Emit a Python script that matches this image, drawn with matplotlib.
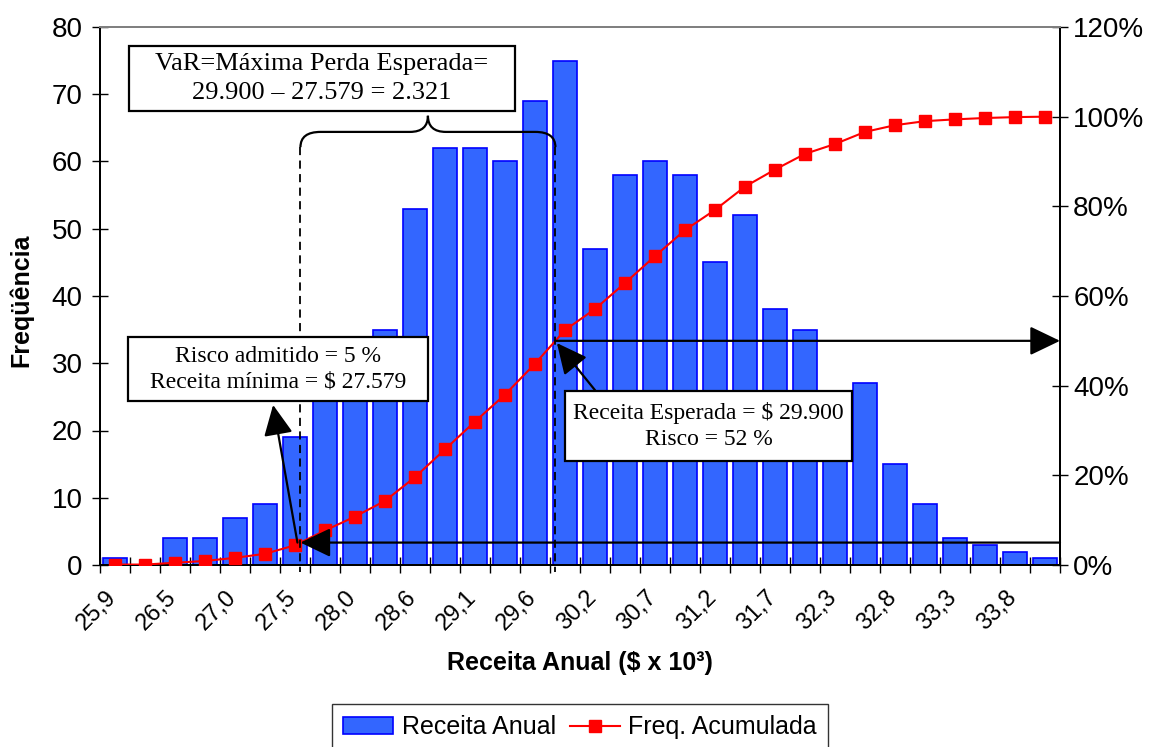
import numpy as np
import matplotlib
matplotlib.use("Agg")
import matplotlib.pyplot as plt
from matplotlib.patches import Rectangle, PathPatch, Patch
from matplotlib.path import Path
from matplotlib.ticker import MultipleLocator, FuncFormatter, FixedLocator, NullFormatter
from matplotlib.lines import Line2D
from matplotlib.transforms import ScaledTranslation

# ---- data -------------------------------------------------------------
bin_labels = ["25,9", "26,5", "27,0", "27,5", "28,0", "28,6", "29,1", "29,6",
              "30,2", "30,7", "31,2", "31,7", "32,3", "32,8", "33,3", "33,8"]
counts = [1, 0, 4, 4, 7, 9, 19, 33, 31, 35, 53, 62, 62, 60, 69, 75,
          47, 58, 60, 58, 45, 52, 38, 35, 22, 27, 15, 9, 4, 3, 2, 1]
risk_admitted = 0.05      # risco admitido
risk_expected = 0.50      # nível da receita esperada

box_var = ["VaR=Máxima Perda Esperada=", "29.900 – 27.579 = 2.321"]
box_min = ["Risco admitido = 5 %", "Receita mínima = $ 27.579"]
box_exp = ["Receita Esperada = $ 29.900", "Risco = 52 %"]

# ---- derived ----------------------------------------------------------
idx = np.arange(len(counts))
cum = np.cumsum(counts) / np.sum(counts)
x_min = np.interp(risk_admitted, cum, idx)
x_exp = np.interp(risk_expected, cum, idx)

plt.rcParams["font.family"] = ["Liberation Sans", "DejaVu Sans"]
SERIF = ["Liberation Serif", "DejaVu Serif"]

W, H = 1149, 747
fig = plt.figure(figsize=(W / 100, H / 100), dpi=100)
AX_L, AX_R, AX_T, AX_B = 100, 1060, 27, 565
ax = fig.add_axes([AX_L / W, 1 - AX_B / H, (AX_R - AX_L) / W, (AX_B - AX_T) / H])

BAR_FACE = "#3366FF"
BAR_EDGE = "#0000FF"
ax.bar(idx, counts, width=0.8, color=BAR_FACE, edgecolor=BAR_EDGE,
       linewidth=1.2, zorder=2)
ax.set_xlim(-0.5, len(counts) - 0.5)
ax.set_ylim(0, 80)
ax.yaxis.set_major_locator(MultipleLocator(10))
ax.tick_params(axis="y", direction="inout", length=11, width=1.0,
               labelsize=20, pad=7)

# category ticks between bars, rotated labels on every other bar
ax.xaxis.set_major_locator(FixedLocator(np.arange(-0.5, len(counts), 1.0)))
ax.xaxis.set_major_formatter(NullFormatter())
ax.tick_params(axis="x", which="major", direction="inout", length=11, width=1.0)
label_shift = ScaledTranslation(-10 / 100, -21 / 100, fig.dpi_scale_trans)
for pos, lab in zip(idx[::2], bin_labels):
    ax.text(pos, 0, lab, transform=ax.get_xaxis_transform() + label_shift,
            rotation=45, ha="right", va="top", rotation_mode="anchor",
            fontsize=17, clip_on=False)

ax2 = ax.twinx()
ax2.plot(idx, cum, color="#FF0000", lw=1.5, marker="s", ms=8, zorder=3)
ax2.set_ylim(0, 1.2)
ax2.yaxis.set_major_locator(MultipleLocator(0.2))
ax2.yaxis.set_major_formatter(FuncFormatter(lambda v, p: f"{v * 100:.0f}%"))
ax2.tick_params(axis="y", direction="inout", length=11, width=1.0,
                labelsize=20, pad=4)

for a in (ax, ax2):
    for s in ("left", "right", "bottom"):
        a.spines[s].set_color("black")
        a.spines[s].set_linewidth(1.4)
    a.spines["top"].set_color("#808080")
    a.spines["top"].set_linewidth(1.4)

# axis titles
fig.text(21 / W, 1 - 300 / H, "Freqüência", rotation=90, ha="center",
         va="center", fontsize=18, fontweight="bold")
fig.text(580 / W, 1 - 663 / H, "Receita Anual ($ x 10³)", ha="center",
         va="center", fontsize=18, fontweight="bold")

# ---- annotations ------------------------------------------------------
dash = (0, (4.5, 3))
y_end, y_h, y_peak = 0.932, 0.966, 1.002
for xv in (x_min, x_exp):
    ax2.plot([xv, xv], [y_end, -0.015], color="black", lw=1.3,
             linestyle=dash, clip_on=False, zorder=4)

# curly brace spanning the two levels
xm = (x_min + x_exp) / 2
rx, pw = 0.67, 0.6
verts = [(x_min, y_end), (x_min, y_h), (x_min + rx, y_h),
         (xm - pw, y_h), (xm, y_h), (xm, y_peak),
         (xm, y_h), (xm + pw, y_h),
         (x_exp - rx, y_h), (x_exp, y_h), (x_exp, y_end)]
codes = [Path.MOVETO, Path.CURVE3, Path.CURVE3,
         Path.LINETO, Path.CURVE3, Path.CURVE3,
         Path.CURVE3, Path.CURVE3,
         Path.LINETO, Path.CURVE3, Path.CURVE3]
ax2.add_patch(PathPatch(Path(verts, codes), fill=False, lw=1.6,
                        color="black", zorder=4, clip_on=False))

arrow = dict(arrowstyle="-|>,head_length=0.75,head_width=0.36",
             mutation_scale=25, lw=1.6, color="black",
             shrinkA=0, shrinkB=0)
right_edge = len(counts) - 0.5
ax2.annotate("", xy=(x_min, risk_admitted), xytext=(right_edge, risk_admitted),
             arrowprops=arrow, annotation_clip=False, zorder=4)
ax2.annotate("", xy=(5.27, 0.357), xytext=(x_min - 0.1, risk_admitted),
             arrowprops=arrow, annotation_clip=False, zorder=4)
ax2.annotate("", xy=(right_edge, risk_expected), xytext=(x_exp, risk_expected),
             arrowprops=arrow, annotation_clip=False, zorder=4)
ax2.annotate("", xy=(x_exp + 0.05, risk_expected - 0.005), xytext=(16.0, 0.39),
             arrowprops=arrow, annotation_clip=False, zorder=4)


def text_box(px0, py0, px1, py1, lines, size, spacing):
    """Framed two-line note, given in pixel coordinates of the axes area."""
    w = AX_R - AX_L
    h = AX_B - AX_T
    x0 = (px0 - AX_L) / w
    x1 = (px1 - AX_L) / w
    y0 = (AX_B - py1) / h
    y1 = (AX_B - py0) / h
    ax2.add_patch(Rectangle((x0, y0), x1 - x0, y1 - y0, transform=ax2.transAxes,
                            facecolor="white", edgecolor="black", lw=1.6,
                            zorder=6, clip_on=False))
    ax2.text((x0 + x1) / 2, (y0 + y1) / 2, "\n".join(lines),
             transform=ax2.transAxes, ha="center", va="center",
             family=SERIF, fontsize=size, linespacing=spacing, zorder=7)


text_box(129, 46, 515, 111, box_var, 19, 1.36)
text_box(128, 337, 428, 401, box_min, 17, 1.3)
text_box(565, 391, 852, 461, box_exp, 17, 1.3)

# ---- legend -----------------------------------------------------------
handles = [Patch(facecolor=BAR_FACE, edgecolor=BAR_EDGE, lw=1.2),
           Line2D([], [], color="#FF0000", lw=1.5, marker="s", ms=8)]
fig.legend(handles, ["Receita Anual", "Freq. Acumulada"], loc="upper center",
           bbox_to_anchor=(580 / W, 1 - 704 / H), ncol=2, frameon=True,
           fancybox=False, edgecolor="black", fontsize=18, handlelength=2.0,
           handletextpad=0.35, columnspacing=0.55, borderpad=0.45,
           borderaxespad=0)

fig.savefig("out.png", dpi=100)
